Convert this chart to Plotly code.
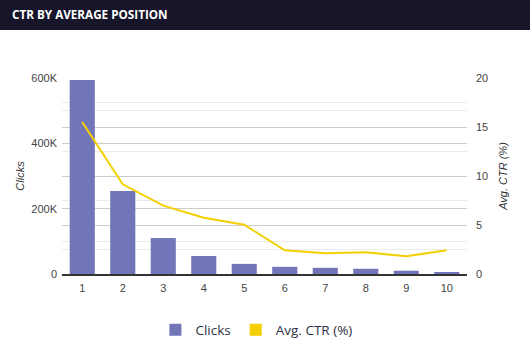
import plotly.graph_objects as go

positions = ["1", "2", "3", "4", "5", "6", "7", "8", "9", "10"]
clicks = [594000, 254000, 110000, 55000, 31000, 22000, 19000, 16000, 10000, 6000]
avg_ctr = [15.5, 9.15, 6.97, 5.75, 5.03, 2.42, 2.11, 2.21, 1.80, 2.42]
left_tickvals = [0, 200000, 400000, 600000]
left_ticktext = ["0", "200K", "400K", "600K"]

BAR = "#7276b8"
YEL = "#f5d000"
HEADER = "#16152a"

W, H = 530, 350
L, R, T, B = 62, 63, 78, 76
pw, ph = W - L - R, H - T - B

def px_x(x):
    return (x - L) / pw

def px_y(y):
    return (H - B - y) / ph

fig = go.Figure()
fig.add_trace(go.Bar(x=positions, y=clicks, name="Clicks", marker_color=BAR,
                     marker_line_width=0, yaxis="y"))
fig.add_trace(go.Scatter(x=positions, y=avg_ctr, name="Avg. CTR (%)", mode="lines",
                         line=dict(color=YEL, width=2), yaxis="y2", showlegend=False))
fig.add_trace(go.Scatter(x=[None], y=[None], name="Avg. CTR (%)", mode="markers",
                         marker=dict(symbol="square", size=12, color=YEL), yaxis="y2"))

tickfont = dict(family="Liberation Sans, Arial", size=11, color="#444")
titlefont = dict(family="Liberation Sans, Arial", size=11, color="#333", style="italic")

fig.update_layout(
    width=W, height=H,
    margin=dict(l=L, r=R, t=T, b=B, autoexpand=False),
    paper_bgcolor="white", plot_bgcolor="white",
    bargap=0.38,
    showlegend=True,
    legend=dict(orientation="h", x=0.48, xanchor="center",
                yref="container", y=(H - 330) / H, yanchor="middle",
                font=dict(family="Open Sans", size=13.5, color="#2d3142")),
    xaxis=dict(type="category", showline=True, linecolor="#333", linewidth=1.5,
               ticks="", tickfont=tickfont, showgrid=False, ticklabelstandoff=3,
               automargin=False),
    yaxis=dict(range=[0, 600000], tickvals=left_tickvals, ticktext=left_ticktext,
               tickfont=tickfont, showgrid=True, gridcolor="#cccccc", gridwidth=1,
               zeroline=False, ticks="", ticklabelstandoff=4, automargin=False,
               minor=dict(dtick=100000, showgrid=True, gridcolor="#ebebeb", gridwidth=1),
               title=dict(text="Clicks", font=titlefont, standoff=4)),
    yaxis2=dict(range=[0, 20], dtick=5, overlaying="y", side="right",
                tickfont=tickfont, showgrid=True, gridcolor="#cccccc", gridwidth=1,
                zeroline=False, ticks="", ticklabelstandoff=8, automargin=False,
                minor=dict(dtick=2.5, showgrid=True, gridcolor="#ebebeb", gridwidth=1),
                title=dict(text="Avg. CTR (%)", font=titlefont, standoff=12)),
    shapes=[dict(type="rect", xref="paper", yref="paper",
                 x0=px_x(0), x1=px_x(W), y0=px_y(30), y1=px_y(0),
                 fillcolor=HEADER, line_width=0, layer="above")],
    annotations=[dict(text="<b>CTR BY AVERAGE POSITION</b>", xref="paper", yref="paper",
                      x=px_x(10), y=px_y(14), xanchor="left", yanchor="middle",
                      showarrow=False,
                      font=dict(family="Open Sans", size=11.7, color="white"))],
)

fig.write_html("out.html")
